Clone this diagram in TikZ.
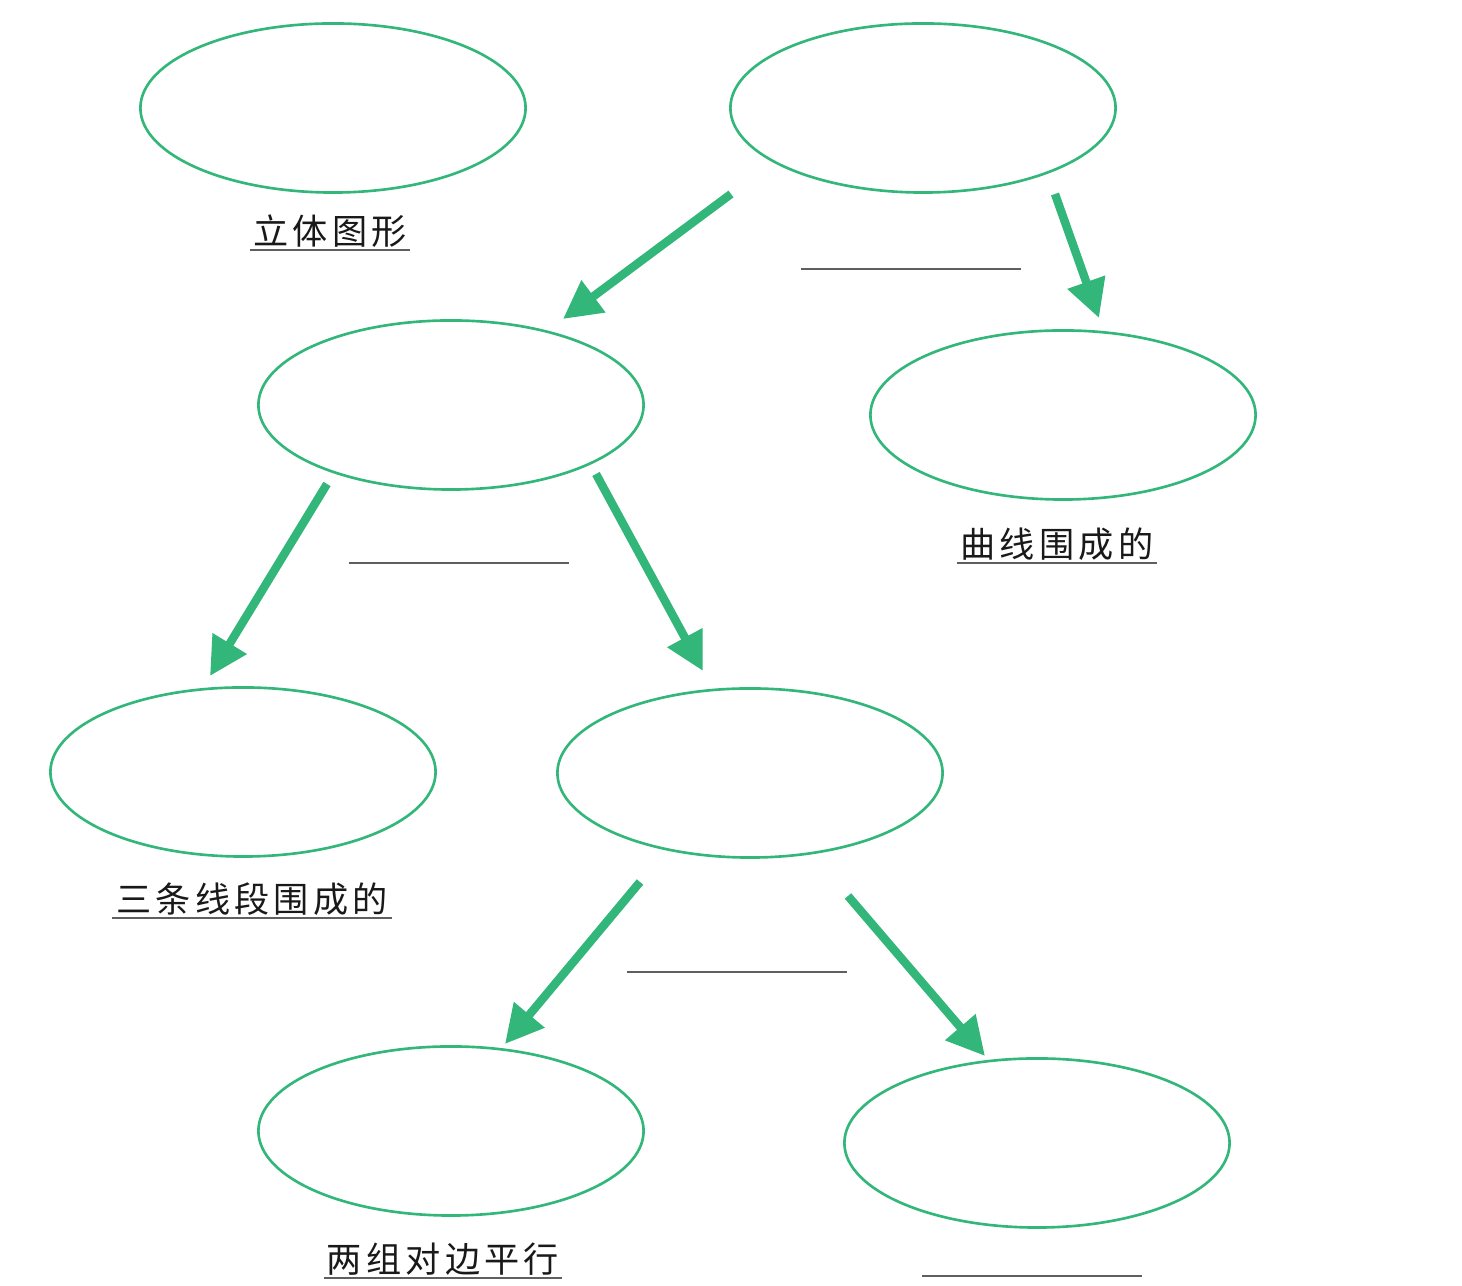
\documentclass[tikz,border=0pt]{standalone}
\usepackage{fontspec}
\newfontfamily\cjk[LetterSpace=12]{Noto Sans CJK SC}
\usepackage{tikz}
\usetikzlibrary{shapes.geometric,arrows.meta}
\definecolor{mapgreen}{RGB}{50,182,122}
\definecolor{rulegray}{RGB}{95,95,95}

\begin{document}
\begin{tikzpicture}[
      x=0.01cm, y=-0.01cm,
      oval/.style={ellipse, draw=mapgreen, line width=0.75pt, inner sep=0,
                   minimum width=3.85cm, minimum height=1.69cm},
      arr/.style={-{Triangle[length=3.8mm,width=3.8mm]}, line width=2.4pt,
                  draw=mapgreen},
      word/.style={font=\cjk\fontsize{10pt}{12pt}\selectfont, text=black!90,
                   inner xsep=0, inner ysep=0.6pt, anchor=south},
      blank/.style={inner sep=0, minimum height=0pt, anchor=south},
      rule/.style={draw=rulegray, line width=0.45pt}
    ]
    \useasboundingbox (0,0) rectangle (1462,1286);
    % the eight empty ovals
    \node[oval] (solid)  at (333,108)  {};
    \node[oval] (plane)  at (923,108)  {};
    \node[oval] (poly)   at (451,405)  {};
    \node[oval] (curved) at (1063,415) {};
    \node[oval] (tri)    at (243,772)  {};
    \node[oval] (quad)   at (750,773)  {};
    \node[oval] (para)   at (451,1131) {};
    \node[oval] (trap)   at (1037,1143) {};
    % underlined words
    \node[word, minimum width=1.59cm] (wsolid)  at (330,250)  {立体图形};
    \node[word, minimum width=1.99cm] (wcurved) at (1057,563) {曲线围成的};
    \node[word, minimum width=2.79cm] (wtri)    at (252,918)  {三条线段围成的};
    \node[word, minimum width=2.36cm] (wpara)   at (443,1278) {两组对边平行};
    \foreach \w in {wsolid,wcurved,wtri,wpara}
      \draw[rule] (\w.south west) -- (\w.south east);
    % blanks to fill in
    \node[blank, minimum width=2.19cm] (bplane) at (911,269)  {};
    \node[blank, minimum width=2.19cm] (bpoly)  at (459,563)  {};
    \node[blank, minimum width=2.19cm] (bquad)  at (737,972)  {};
    \node[blank, minimum width=2.19cm] (btrap)  at (1032,1276) {};
    \foreach \b in {bplane,bpoly,bquad,btrap}
      \draw[rule] (\b.south west) -- (\b.south east);
    % arrow ends
    \coordinate (p1) at (731,194);  \coordinate (q1) at (563,319);
    \coordinate (p2) at (1055,194); \coordinate (q2) at (1099,318);
    \coordinate (p3) at (327,484);  \coordinate (q3) at (210,676);
    \coordinate (p4) at (596,474);  \coordinate (q4) at (703,671);
    \coordinate (p5) at (640,882);  \coordinate (q5) at (505,1044);
    \coordinate (p6) at (848,896);  \coordinate (q6) at (985,1056);
    \foreach \i in {1,...,6}
      \draw[arr] (p\i) -- (q\i);
  \end{tikzpicture}
\end{document}
